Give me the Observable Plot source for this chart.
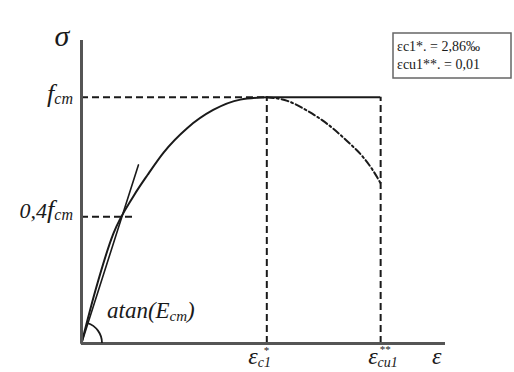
<!DOCTYPE html>
<html><head><meta charset="utf-8">
<script src="https://cdn.jsdelivr.net/npm/d3@7"></script>
<script src="https://cdn.jsdelivr.net/npm/@observablehq/plot@0.6"></script>
<style>body{margin:0;background:#fff}svg{display:block}</style>
</head><body><div id="chart"></div>
<script>
// strain in arbitrary units (eps_c1 = 2.8), stress relative to fcm
const epsC1 = 2.8;
const epsCu1 = 4.52;
const fcm = 1.0;
const f04 = 0.515;
const axisMax = {x: 5.5, y: 1.23};
const riseX = [0, 0.21, 0.48, 0.79, 1.0, 1.24, 1.6, 1.99, 2.4, 2.8];
const riseY = [0, 0.215, 0.445, 0.6, 0.685, 0.775, 0.875, 0.948, 0.99, 1.0];
const fallX = [2.8, 3.11, 3.41, 3.72, 4.02, 4.26, 4.41, 4.52];
const fallY = [1.0, 0.985, 0.945, 0.89, 0.82, 0.755, 0.70, 0.65];
const tangentX = [0, 0.86];
const tangentY = [0, 0.725];
const legendLines = ["εc1*. = 2,86‰", "εcu1**. = 0,01"];

const rise = riseX.map((x, i) => ({x, y: riseY[i]}));
const fall = fallX.map((x, i) => ({x, y: fallY[i]}));
const tangent = tangentX.map((x, i) => ({x, y: tangentY[i]}));
const ink = "#1a1a1a";

const plot = Plot.plot({
  width: 514, height: 372,
  margin: 0,
  x: {domain: [0, axisMax.x], range: [81, 445], axis: null},
  y: {domain: [0, axisMax.y], range: [343, 40], axis: null},
  style: {background: "#fff"},
  marks: [
    Plot.ruleY([fcm], {x1: 0, x2: epsC1, stroke: ink, strokeWidth: 2, strokeDasharray: "7,4"}),
    Plot.ruleY([f04], {x1: 0, x2: 0.79, stroke: ink, strokeWidth: 2, strokeDasharray: "7,4"}),
    Plot.ruleX([epsC1], {y1: 0, y2: fcm, stroke: ink, strokeWidth: 2, strokeDasharray: "7,4"}),
    Plot.ruleX([epsCu1], {y1: 0, y2: fcm, stroke: ink, strokeWidth: 2, strokeDasharray: "7,4"}),
    Plot.ruleY([fcm], {x1: epsC1, x2: epsCu1, stroke: ink, strokeWidth: 2}),
    Plot.line(rise, {x: "x", y: "y", stroke: ink, strokeWidth: 2, curve: "monotone-x"}),
    Plot.line(fall, {x: "x", y: "y", stroke: ink, strokeWidth: 2, strokeDasharray: "7,3,2,3", curve: "monotone-x"}),
    Plot.line(tangent, {x: "x", y: "y", stroke: ink, strokeWidth: 1.6}),
    Plot.ruleX([0], {y1: 0, y2: axisMax.y, stroke: "#555", strokeWidth: 3}),
    Plot.ruleY([0], {x1: 0, x2: axisMax.x, stroke: "#555", strokeWidth: 3})
  ]
});

const sx = plot.scale("x"), sy = plot.scale("y");
const svg = d3.select(plot);
const ox = sx.apply(0), oy = sy.apply(0);
const ang = Math.atan2(sy.apply(0) - sy.apply(tangentY[1]), sx.apply(tangentX[1]) - sx.apply(0));
const r = 21;
svg.append("path")
  .attr("d", `M${ox + r},${oy} A${r},${r} 0 0 0 ${ox + r * Math.cos(ang)},${oy - r * Math.sin(ang)}`)
  .attr("fill", "none").attr("stroke", ink).attr("stroke-width", 1.8);

const font = "'Liberation Serif', 'DejaVu Serif', serif";
function label(x, y, parts, anchor) {
  const t = svg.append("text").attr("x", x).attr("y", y)
    .attr("font-family", font).attr("font-style", "italic").attr("fill", ink)
    .attr("text-anchor", anchor || "start");
  parts.forEach(p => {
    const ts = t.append("tspan").text(p.t).attr("font-size", p.s);
    if (p.dy) ts.attr("dy", p.dy);
  });
  return t;
}
label(62, 46, [{t: "σ", s: 30}], "middle");
label(73, 102, [{t: "f", s: 26}, {t: "cm", s: 16, dy: 2}], "end");
label(73, 218, [{t: "0,4", s: 22}, {t: "f", s: 26}, {t: "cm", s: 16, dy: 2}], "end");
label(107, 318, [{t: "atan(E", s: 23}, {t: "cm", s: 15, dy: 3}, {t: ")", s: 23, dy: -3}]);
label(sx.apply(epsC1) - 18, 364, [{t: "ε", s: 24}, {t: "c1", s: 14, dy: 3}]);
label(sx.apply(epsC1) - 3, 354, [{t: "*", s: 11}]);
label(sx.apply(epsCu1) - 12, 364, [{t: "ε", s: 24}, {t: "cu1", s: 14, dy: 3}]);
label(sx.apply(epsCu1) - 1, 353, [{t: "**", s: 11}]);
label(432, 364, [{t: "ε", s: 24}]);

// legend box
svg.append("rect").attr("x", 393).attr("y", 33).attr("width", 118).attr("height", 45)
  .attr("fill", "#fff").attr("stroke", "#666").attr("stroke-width", 1.5);
legendLines.forEach((s, i) => {
  svg.append("text").attr("x", 397).attr("y", 51 + i * 18)
    .attr("text-anchor", "start")
    .attr("font-family", font).attr("font-size", 14).attr("fill", ink).text(s);
});

document.getElementById("chart").appendChild(plot);
</script></body></html>
